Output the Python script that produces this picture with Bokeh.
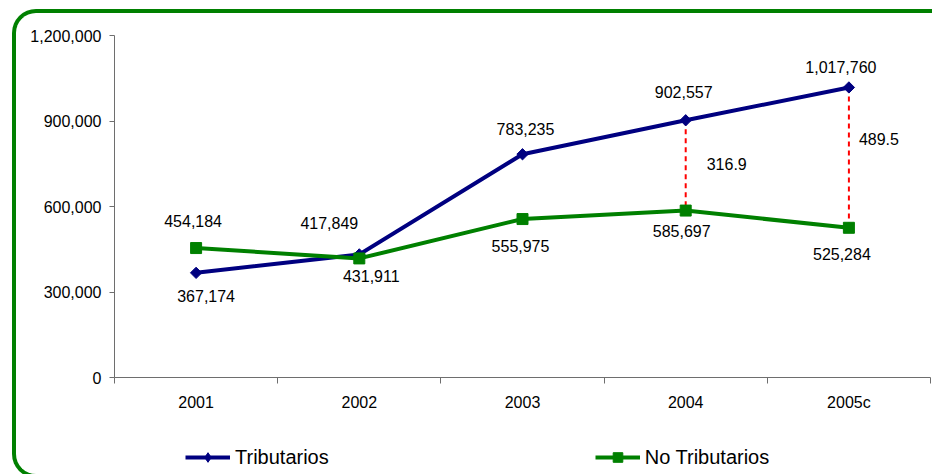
import math
from bokeh.plotting import figure
from bokeh.layouts import column
from bokeh.models import (ColumnDataSource, Range1d, FixedTicker, NumeralTickFormatter,
                          Legend, LegendItem, Div)
from bokeh.core.properties import value
from bokeh.embed import file_html
from bokeh.resources import INLINE

# ---- data ----
years = ["2001", "2002", "2003", "2004", "2005c"]
tributarios = [367174, 431911, 783235, 902557, 1017760]
no_tributarios = [454184, 417849, 555975, 585697, 525284]
gap_years = ["2004", "2005c"]
gap_labels = ["316.9", "489.5"]
y_ticks = [0, 300000, 600000, 900000, 1200000]
series_names = ["Tributarios", "No Tributarios"]

# ---- label placement (screen offsets, px) ----
trib_dx = [10, 12, 3, -2, -8]
trib_dy = [23, 22, -25, -28, -20]
nt_dx = [-3, -30, -2, -4, -7]
nt_dy = [-27, -35, 27, 20, 26]
gap_dx = [41, 30]
gap_dy = [-1, -19]

FNAME = "Liberation Sans"
FONT = value(FNAME)
NAVY = "#000080"
GREEN = "#008000"
AXIS = "#6e6e6e"

xs = list(range(1, len(years) + 1))
fmt = lambda v: f"{v:,}"

src_t = ColumnDataSource(dict(x=xs, y=tributarios, lab=[fmt(v) for v in tributarios],
                              dx=trib_dx, dy=trib_dy))
src_n = ColumnDataSource(dict(x=xs, y=no_tributarios, lab=[fmt(v) for v in no_tributarios],
                              dx=nt_dx, dy=nt_dy))
gi = [years.index(g) for g in gap_years]
src_g = ColumnDataSource(dict(
    x=[xs[i] for i in gi],
    y0=[tributarios[i] for i in gi],
    y1=[no_tributarios[i] for i in gi],
    ym=[(tributarios[i] + no_tributarios[i]) / 2 for i in gi],
    lab=gap_labels, dx=gap_dx, dy=gap_dy))

MAIN_H = 425
p = figure(width=932, height=MAIN_H, x_range=Range1d(0.5, len(years) + 0.5),
           y_range=Range1d(y_ticks[0], y_ticks[-1]),
           output_backend="svg", toolbar_location=None,
           min_border_left=114, min_border_right=2, min_border_top=35,
           min_border_bottom=MAIN_H - 377)
p.outline_line_color = None
p.xgrid.visible = False
p.ygrid.visible = False
p.background_fill_color = "white"
p.border_fill_color = "white"

# x axis
xa = p.xaxis[0]
xa.ticker = FixedTicker(ticks=xs, minor_ticks=[x - 0.5 for x in xs] + [xs[-1] + 0.5])
xa.major_label_overrides = {x: y for x, y in zip(xs, years)}
xa.major_tick_line_color = None
xa.major_tick_out = 0
xa.major_tick_in = 0
xa.minor_tick_in = 0
xa.minor_tick_out = 6
xa.minor_tick_line_color = AXIS
xa.axis_line_color = AXIS
xa.major_label_standoff = 10
xa.major_label_text_font = FNAME
xa.major_label_text_font_size = "16px"
xa.major_label_text_color = "black"

# y axis
ya = p.yaxis[0]
ya.ticker = FixedTicker(ticks=y_ticks)
ya.formatter = NumeralTickFormatter(format="0,0")
ya.minor_tick_line_color = None
ya.major_tick_in = 0
ya.major_tick_out = 5
ya.major_tick_line_color = AXIS
ya.axis_line_color = AXIS
ya.major_label_standoff = 8
ya.major_label_text_font = FNAME
ya.major_label_text_font_size = "16px"
ya.major_label_text_color = "black"

# red dashed gaps
p.segment(x0="x", y0="y0", x1="x", y1="y1", source=src_g,
          line_color="#FF0000", line_width=2, line_dash="5 4")

line_kw = [dict(line_color=NAVY, line_width=4), dict(line_color=GREEN, line_width=4)]
mark_kw = [dict(marker="square", angle=math.pi / 4, size=8, fill_color=NAVY, line_color=NAVY),
           dict(marker="square", size=11, fill_color=GREEN, line_color=GREEN)]
legend_mark_kw = [dict(marker="diamond", size=13, fill_color=NAVY, line_color=NAVY),
                  dict(marker="square", size=11, fill_color=GREEN, line_color=GREEN)]

for s, lk, mk in zip((src_t, src_n), line_kw, mark_kw):
    p.line("x", "y", source=s, **lk)
    p.scatter("x", "y", source=s, **mk)

for s in (src_t, src_n):
    p.text(x="x", y="y", text="lab", x_offset="dx", y_offset="dy", source=s,
           text_align="center", text_baseline="middle", text_font=FONT,
           text_font_size="16px", text_color="black")
p.text(x="x", y="ym", text="lab", x_offset="dx", y_offset="dy", source=src_g,
       text_align="center", text_baseline="middle", text_font=FONT,
       text_font_size="16px", text_color="black")

# ---- legend strip (its frame is aligned with the main frame by the column) ----
LEG_H = 474 - MAIN_H
q = figure(width=932, height=LEG_H, x_range=Range1d(-2, -1), y_range=Range1d(-2, -1),
           output_backend="svg", toolbar_location=None,
           min_border_left=0, min_border_right=0, min_border_top=0, min_border_bottom=0)
q.axis.visible = False
q.grid.visible = False
q.outline_line_color = None
q.background_fill_color = "white"
q.border_fill_color = "white"
items = []
for name, s, lk, mk in zip(series_names, (src_t, src_n), line_kw, legend_mark_kw):
    r1 = q.line("x", "y", source=s, **lk)      # lies outside this strip's ranges
    r2 = q.scatter("x", "y", source=s, **mk)
    items.append(LegendItem(label=name, renderers=[r1, r2]))
legend = Legend(items=items, orientation="horizontal", location=(71, 5), padding=0, margin=0,
                spacing=266, glyph_width=45, glyph_height=24, label_standoff=5,
                border_line_color=None, background_fill_alpha=0,
                label_text_font=FNAME, label_text_font_size="20px",
                label_text_color="black")
q.add_layout(legend, "center")

frame_div = Div(text="", width=921, height=461, styles={
    "position": "absolute",
    "left": "7px",
    "top": "4px",
    "width": "921px",
    "height": "461px",
    "box-sizing": "content-box",
    "border-left": "4px solid #008000",
    "border-top": "4px solid #008000",
    "border-bottom": "4px solid #008000",
    "border-top-left-radius": "24px",
    "border-bottom-left-radius": "24px",
    "pointer-events": "none",
    "z-index": "10",
})

layout = column(p, q, spacing=0)
open("out.html", "w").write(file_html([layout, frame_div], INLINE))
